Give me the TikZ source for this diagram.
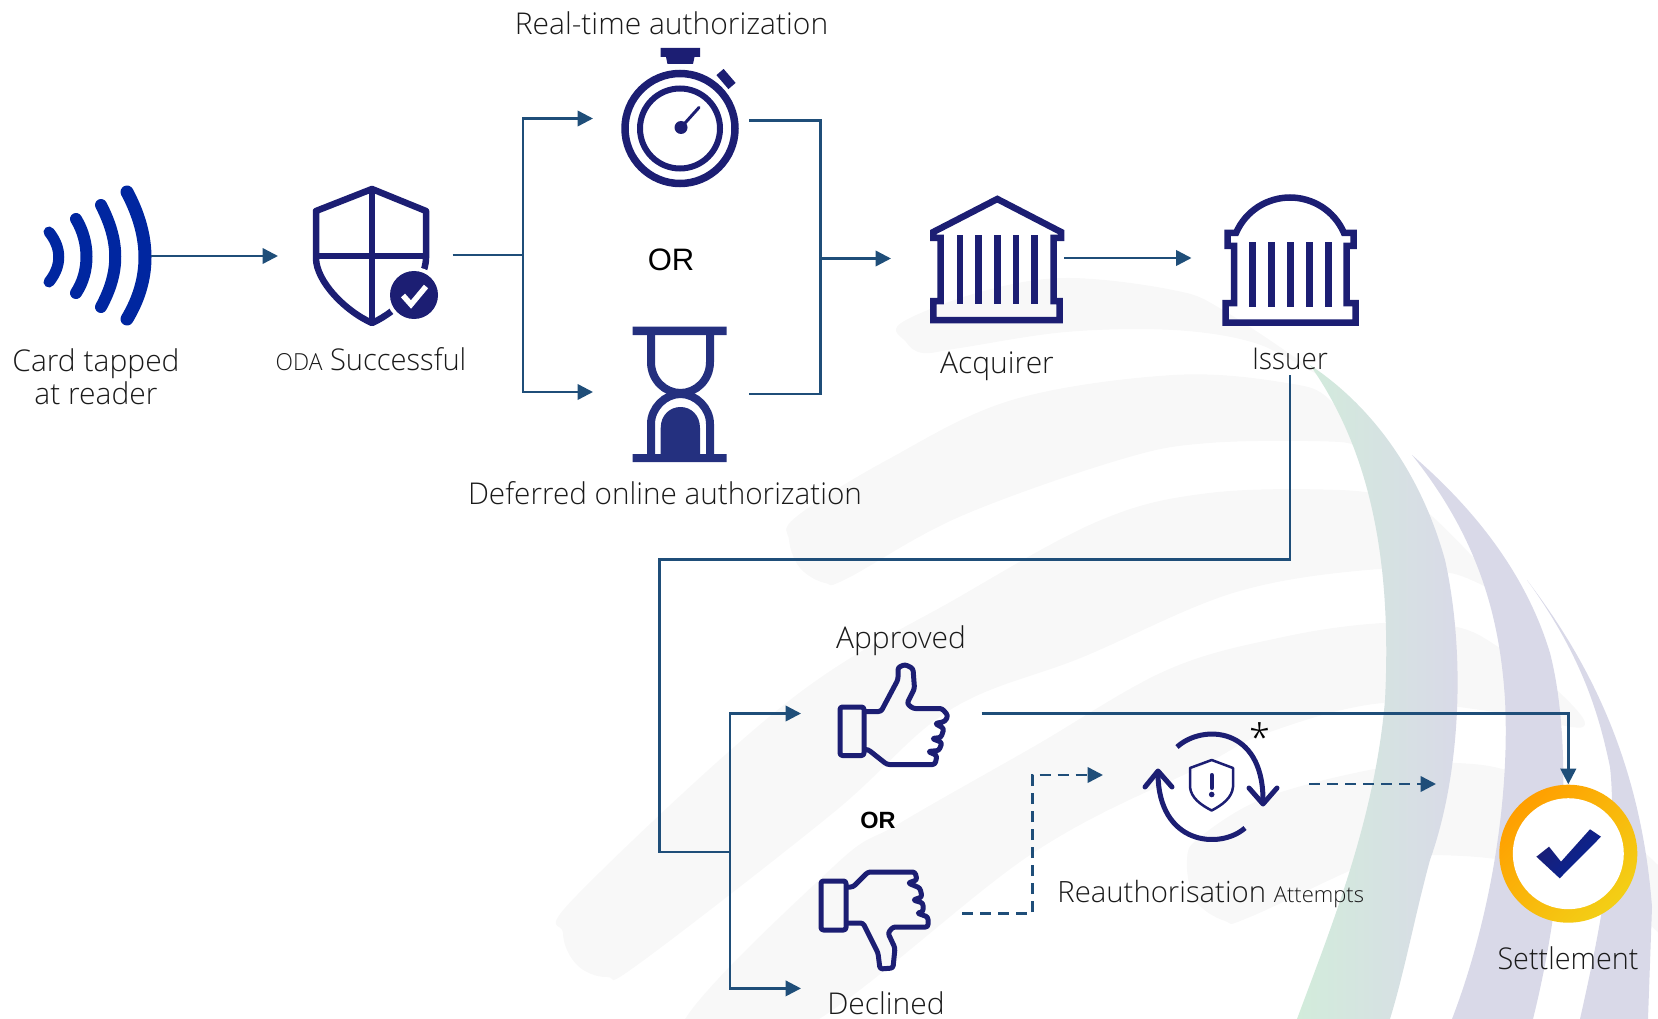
\documentclass[tikz,border=0pt]{standalone}
\usepackage{fontspec}
\setmainfont{Open Sans Light}
\newfontfamily\arialfont{Liberation Sans}
\usetikzlibrary{arrows.meta}
\definecolor{flowblue}{HTML}{1F4E79}
\definecolor{iconnavy}{HTML}{1C1E73}
\definecolor{glassblue}{HTML}{24307F}
\definecolor{waveblue}{HTML}{0026A0}
\definecolor{labelgrey}{HTML}{1A1A1A}
\definecolor{swoosh}{HTML}{F8F8F8}
\definecolor{bandviolet}{HTML}{D9D9E8}
\definecolor{bandgreen}{HTML}{D2ECDB}
\definecolor{bandmid}{HTML}{D7E3E0}
\definecolor{ringorange}{HTML}{FF9F00}
\definecolor{ringyellow}{HTML}{F3CF16}
\tikzset{
	flowline/.style={draw=flowblue,line width=2.5pt},
	flowarrow/.style={flowline,-{Triangle[length=15.5pt,width=15.5pt]}},
	dashline/.style={flowarrow,dash pattern=on 11pt off 7pt},
	iconbox/.style={inner sep=0,outer sep=0},
	iconline/.style={draw=iconnavy,line width=6.5pt},
	handline/.style={draw=iconnavy,line width=5pt,line join=round,rounded corners=2.5pt},
	roundline/.style={draw=iconnavy,line width=5pt,line cap=round,line join=round},
	caption/.style={anchor=base,inner sep=0,text=labelgrey,font=\fontsize{30}{36}\selectfont},
	ortext/.style={anchor=base,inner sep=0,text=black,font=\arialfont\fontsize{31}{36}\selectfont}
}
\begin{document}
\begin{tikzpicture}[x=1pt,y=-1pt]
	\useasboundingbox (0,0) rectangle (1658,1019);
	\begin{scope}
		\clip (0,0) rectangle (1658,1019);
		% faint swooshes
		\fill [swoosh] plot [smooth cycle,tension=0.6] coordinates {(901,323) (980,292) (1066,278) (1173,290) (1223,310) (1316,373) (1255,343) (1173,330) (1066,332) (960,348) (923,353) (906,342)};
		\fill [swoosh] plot [smooth cycle,tension=0.6] coordinates {(789,540) (796,517) (887,460) (1012,400) (1173,375) (1287,383) (1330,400) (1362,452) (1340,442) (1209,443) (1119,460) (959,517) (848,578) (825,583) (800,568)};
		\fill [swoosh] plot [smooth cycle,tension=0.6] coordinates {(563,933) (577,895) (790,700) (959,597) (1101,520) (1209,493) (1340,490) (1400,500) (1433,517) (1500,590) (1450,573) (1367,570) (1233,593) (1083,657) (950,710) (833,813) (640,963) (607,977) (577,965)};
		\fill [swoosh] plot [smooth cycle,tension=0.6] coordinates {(680,1030) (833,867) (900,823) (1033,747) (1167,670) (1283,637) (1383,623) (1457,627) (1503,650) (1557,690) (1583,727) (1503,713) (1383,703) (1267,733) (1200,767) (1033,853) (800,1030)};
		\fill [swoosh] plot [smooth cycle,tension=0.6] coordinates {(1187,860) (1200,837) (1267,797) (1380,768) (1457,763) (1520,775) (1600,820) (1670,880) (1670,940) (1600,880) (1503,860) (1433,855) (1383,857) (1250,917) (1225,921) (1195,900)};
		% coloured bands
		\shade [left color=bandgreen,middle color=bandmid,right color=bandviolet] (1310,365) .. controls (1370,405) and (1420,470) .. (1445,560) .. controls (1465,650) and (1462,770) .. (1430,860) .. controls (1415,915) and (1405,970) .. (1390,1019) -- (1297,1019) .. controls (1330,930) and (1375,820) .. (1385,700) .. controls (1392,560) and (1370,450) .. cycle;
		\fill [bandviolet] (1412,455) .. controls (1470,505) and (1525,570) .. (1550,653) .. controls (1570,730) and (1570,870) .. (1533,1019) -- (1452,1019) .. controls (1490,920) and (1510,800) .. (1505,700) .. controls (1500,620) and (1480,540) .. cycle;
		\fill [bandviolet] (1527,580) .. controls (1580,650) and (1640,750) .. (1652,907) -- (1648,1019) -- (1580,1019) .. controls (1600,930) and (1618,840) .. (1610,767) .. controls (1600,720) and (1585,660) .. cycle;
	\end{scope}

	% waves
	\draw [waveblue,line width=11pt,line cap=round] (49,232) .. controls (62,248) and (62,266) .. (49,282);
	\draw [waveblue,line width=12pt,line cap=round] (76,219) .. controls (90,242) and (90,272) .. (76,293);
	\draw [waveblue,line width=12pt,line cap=round] (101,205) .. controls (120,242) and (120,272) .. (101,307);
	\draw [waveblue,line width=13pt,line cap=round] (127,192) .. controls (151,237) and (151,279) .. (127,319);
	\node [iconbox,minimum width=111pt,minimum height=137pt] (wave) at (95.5,256) {};

	% shield
	\draw [iconnavy,line width=6.5pt,line join=round] (372,189) -- (316,211) -- (316,258) .. controls (316,281) and (345,311) .. (372,323) .. controls (399,311) and (426,281) .. (426,258) -- (426,211) -- cycle;
	\draw [iconnavy,line width=6pt] (372,189) -- (372,323) (316,256) -- (426,256);
	\fill [white] (414,295) circle [radius=28];
	\fill [iconnavy] (414,295) circle [radius=24];
	\draw [white,line width=5.5pt] (403,295.5) -- (411,304.5) -- (426,286.5);
	\node [iconbox,minimum width=174.6pt,minimum height=138pt] (shield) at (365.3,255) {};

	% stopwatch
	\fill [iconnavy] (660.5,48) rectangle (700,57) (666,57) -- (694.5,57) -- (693,64) -- (667.5,64) -- cycle;
	\draw [iconnavy,line width=7.5pt] (680,128.5) circle [radius=55];
	\draw [iconnavy,line width=6pt] (680,128.5) circle [radius=40];
	\draw [iconnavy,line width=9.5pt] (720,72) -- (732,86);
	\fill [iconnavy] (681,127.5) circle [radius=6.5];
	\draw [iconnavy,line width=3pt,line cap=round] (681,127.5) -- (699,107.5);
	\node [iconbox,minimum width=156pt,minimum height=140pt] (watch) at (671,118.5) {};

	% hourglass
	\fill [glassblue] (632.7,326.7) rectangle (726.7,335) (632.7,454) rectangle (726.7,462);
	\begin{scope}[glassblue,line width=8pt]
		\draw (651,335) -- (651,362) .. controls (651,380) and (665,393) .. (680.5,393) .. controls (696,393) and (710,380) .. (710,362) -- (710,335);
		\draw (651,454) -- (651,424) .. controls (651,408) and (665,394) .. (680.5,394) .. controls (696,394) and (710,408) .. (710,424) -- (710,454);
	\end{scope}
	\fill [glassblue] (660.7,454) -- (660.7,428) .. controls (660.7,415) and (670,407) .. (680.5,407) .. controls (691,407) and (700,415) .. (700,428) -- (700,454) -- cycle;
	\node [iconbox,minimum width=156pt,minimum height=135pt] (sandglass) at (671,392) {};

	% acquirer bank
	\draw [iconline] (997.3,199) -- (1061,232) -- (1061,238) -- (1053.5,238) -- (1053.5,301) -- (1059.5,301) -- (1059.5,320) -- (933.3,320) -- (933.3,301) -- (940.5,301) -- (940.5,238) -- (933.3,238) -- (933.3,232) -- cycle;
	\foreach \colx in {960,978.3,997.3,1016,1034.7}
		\fill [iconnavy] (\colx-3.3,235) rectangle (\colx+3.3,304.3);
	\node [iconbox,minimum width=173pt,minimum height=130pt] (acquirer) at (977.5,258) {};

	% issuer bank
	\draw [iconline] (1227.5,233) -- (1236,233) .. controls (1246,210) and (1268,197.5) .. (1290,197.5) .. controls (1312,197.5) and (1334,210) .. (1344,233) -- (1353.5,233) -- (1353.5,246) -- (1346.7,246) -- (1346.7,303) -- (1355.7,303) -- (1355.7,322.5) -- (1225.5,322.5) -- (1225.5,303) -- (1234,303) -- (1234,246) -- (1227.5,246) -- cycle;
	\foreach \colx in {1252.7,1271.7,1290.3,1309.3,1328.3}
		\fill [iconnavy] (\colx-3.3,242.3) rectangle (\colx+3.3,306.7);
	\node [iconbox,minimum width=197pt,minimum height=181pt] (issuer) at (1290,284.5) {};

	% thumbs
	\draw [handline] (840,707) rectangle (864,755.5);
	\draw [handline] (864,711.5) -- (881,711.5) -- (898,679.5) -- (898,667.5) -- (905,664.5) -- (913,668.5) -- (914.5,688.5) -- (907,703.5) -- (913,708.5) -- (942,708.5) -- (948,715.5) -- (945,721.5) -- (935,723.5) -- (944,728.5) -- (941,737.5) -- (932,738.5) -- (942,742.5) -- (939,750.5) -- (928,751.5) -- (937,755.5) -- (935,764.5) -- (887,764.5) -- (868,749.5) -- (864,749.5);
	\node [iconbox,minimum width=180.5pt,minimum height=100pt] (thumbup) at (891.25,713.5) {};
	\draw [handline] (821,881) rectangle (846,930);
	\draw [handline] (846,887) -- (853,887) -- (868,872) -- (915,872) -- (917,880) -- (908,883) -- (920,888) -- (922,897) -- (913,900) -- (923,903) -- (923,912) -- (917,913) -- (928,917) -- (928,927) -- (893,927) -- (888,933) -- (895,948) -- (893,968) -- (880,969) -- (878,953) -- (863,923) -- (846,923);
	\node [iconbox,minimum width=161pt,minimum height=100pt] (thumbdown) at (881.5,913.3) {};

	% reauthorisation cycle
	\draw [iconnavy,line width=2.5pt,line join=round] (1211.7,760) -- (1233,768) -- (1233,787) .. controls (1232,798) and (1222,805) .. (1211.7,810.5) .. controls (1201,805) and (1191,798) .. (1190,787) -- (1190,768) -- cycle;
	\draw [iconnavy,line width=4pt,line cap=round] (1211.7,775) -- (1211.7,788);
	\fill [iconnavy] (1211.7,794.5) circle [radius=2.8];
	\draw [roundline,line cap=butt] (1177,747) .. controls (1202,724) and (1263,726) .. (1263,800);
	\draw [roundline] (1249,788) -- (1263,804) -- (1277,788);
	\draw [roundline,line cap=butt] (1245,828) .. controls (1220,850) and (1158,845) .. (1158,773);
	\draw [roundline] (1145,787) -- (1158,771) -- (1172,787);
	\node [iconbox,minimum width=206pt,minimum height=100pt] (reauth) at (1206,784) {};

	% settlement tick
	\shade [left color=ringorange,right color=ringyellow,shading angle=45] (1568.3,853.7) circle [radius=69];
	\fill [white] (1568.3,853.7) circle [radius=55.5];
	\shade [left color=iconnavy,right color=waveblue!80!iconnavy,shading angle=45] (1536.4,856.7) -- (1549,846.7) -- (1561,861.7) -- (1590,829.3) -- (1601,836.7) -- (1559.7,878.3) -- cycle;
	\node [iconbox,circle,minimum size=139pt] (settlement) at (1568.3,853.7) {};

	% labels
	\node [caption] (realtime) at (671.5,35) {Real-time authorization};
	\node [caption,xscale=.99] (deferred) at (665,504) {Deferred online authorization};
	\node [caption] (card) at (96,371) {Card tapped};
	\node [caption] (reader) at (96,404) {at reader};
	\node [caption,xscale=.97] (oda) at (371,370.5) {{\fontsize{23.5}{30}\selectfont ODA} Successful};
	\node [caption] (acquirerlabel) at (997,373.7) {Acquirer};
	\node [caption,xscale=.93] (issuerlabel) at (1290,369) {Issuer};
	\node [caption] (approved) at (901,648) {Approved};
	\node [caption] (declined) at (886,1014) {Declined};
	\node [caption] (attempts) at (1210.7,902) {{\fontsize{29.3}{36}\selectfont Reauthorisation} {\fontsize{22}{28}\selectfont Attempts}};
	\node [caption,xscale=.96] (settled) at (1568,969.7) {Settlement};
	\node [ortext] (ortop) at (671,270.6) {OR};
	\node [ortext,font=\arialfont\bfseries\fontsize{23.5}{28}\selectfont] (orbottom) at (878,828) {OR};
	\node [inner sep=0,font=\fontsize{38}{44}\selectfont] (star) at (1260,737) {*};

	\coordinate (forkup) at (523,255);
	\coordinate (joinup) at (820.5,258.5);
	\coordinate (watchout) at (749,120.5);
	\coordinate (glassout) at (749,394);
	\coordinate (bendtop) at (659.4,559.3);
	\coordinate (forkdown) at (730,852);
	\coordinate (declinein) at (801,988.4);
	\coordinate (bendre) at (1032.7,775);
	\coordinate (reauthin) at (1103,775);
	\coordinate (reauthend) at (1436,784);

	\draw [flowarrow] (wave.east) -- (wave.east -| shield.west);
	\draw [flowline] (shield.east) -- (forkup);
	\draw [flowarrow] (forkup) |- (watch.west);
	\draw [flowarrow] (forkup) |- (sandglass.west);
	\draw [flowline] (watchout) -| (joinup) |- (glassout);
	\draw [flowarrow] (joinup) -- (joinup -| acquirer.west);
	\draw [flowarrow] (acquirer.east) -- (acquirer.east -| issuer.west);
	\draw [flowline] (issuer.south) |- (bendtop) |- (forkdown);
	\draw [flowarrow] (forkdown) |- (thumbup.west);
	\draw [flowarrow] (forkdown) |- (declinein);
	\draw [flowarrow] (thumbup.east) -| (settlement.north);
	\draw [dashline] (thumbdown.east) -| (bendre) -- (reauthin);
	\draw [dashline] (reauth.east) -- (reauthend);
\end{tikzpicture}
\end{document}
